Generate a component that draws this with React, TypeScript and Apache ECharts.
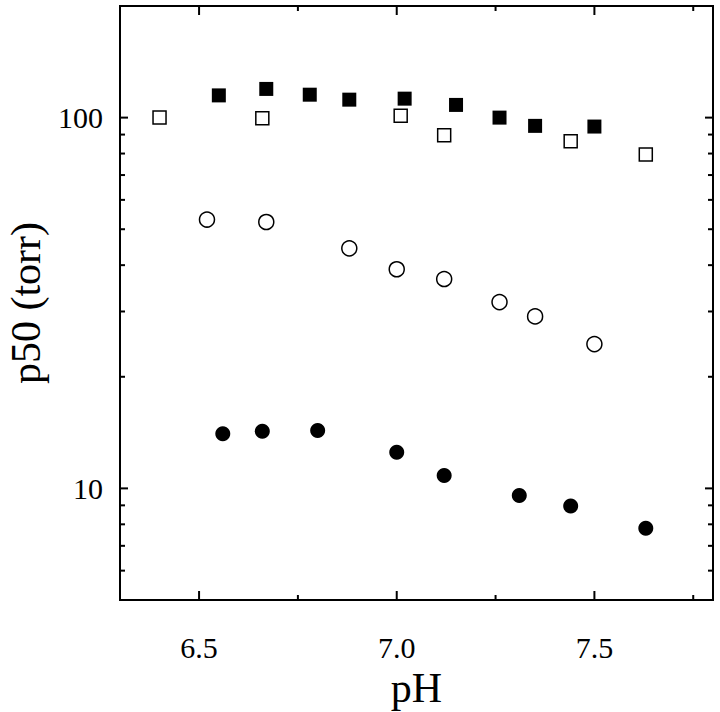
import React, { useEffect, useRef, useState } from "react";
import * as echarts from "echarts";

// pH values and p50 (torr) for each series
const filledSquarePH = [6.55, 6.67, 6.78, 6.88, 7.02, 7.15, 7.26, 7.35, 7.5];
const filledSquareP50 = [114.8, 119.5, 115.3, 111.8, 112.5, 108.2, 100, 95, 94.6];

const openSquarePH = [6.4, 6.66, 7.01, 7.12, 7.44, 7.63];
const openSquareP50 = [100, 99.6, 101.2, 89.6, 86.3, 79.5];

const openCirclePH = [6.52, 6.67, 6.88, 7.0, 7.12, 7.26, 7.35, 7.5];
const openCircleP50 = [53.1, 52.3, 44.4, 39.0, 36.7, 31.8, 29.1, 24.5];

const filledCirclePH = [6.56, 6.66, 6.8, 7.0, 7.12, 7.31, 7.44, 7.63];
const filledCircleP50 = [14.05, 14.26, 14.32, 12.52, 10.84, 9.57, 8.96, 7.81];

// axis ticks
const xMajorTicks = [6.5, 7.0, 7.5];
const xMinorTicks = [6.75, 7.25, 7.75];
const yMajorTicks = [10, 100];
const yMinorTicks = [6, 7, 8, 9, 20, 30, 40, 50, 60, 70, 80, 90];

const X_MIN = 6.3;
const X_MAX = 7.8;
const Y_MIN = 5;
const Y_MAX = 200;

const FONT = "Liberation Serif";

function zip(xs: number[], ys: number[]) {
  return xs.map((x, i) => [x, ys[i]]);
}

function tickSeries(values: number[], dir: "x" | "y", len: number) {
  return {
    type: "custom",
    coordinateSystem: "cartesian2d",
    clip: false,
    data: values.map((v) => (dir === "x" ? [v, 10] : [7, v])),
    renderItem: (params: any, api: any) => {
      const cs = params.coordSys;
      if (dir === "x") {
        const x = api.coord([api.value(0), 10])[0];
        const yb = cs.y + cs.height;
        const yt = cs.y;
        return {
          type: "group",
          children: [
            { type: "line", shape: { x1: x, y1: yb, x2: x, y2: yb - len }, style: { stroke: "#000", lineWidth: 2 } },
            { type: "line", shape: { x1: x, y1: yt, x2: x, y2: yt + len }, style: { stroke: "#000", lineWidth: 2 } },
          ],
        };
      }
      const y = api.coord([7, api.value(1)])[1];
      const xl = cs.x;
      const xr = cs.x + cs.width;
      return {
        type: "group",
        children: [
          { type: "line", shape: { x1: xl, y1: y, x2: xl + len, y2: y }, style: { stroke: "#000", lineWidth: 2 } },
          { type: "line", shape: { x1: xr, y1: y, x2: xr - len, y2: y }, style: { stroke: "#000", lineWidth: 2 } },
        ],
      };
    },
  };
}

const frameSeries = {
  type: "custom",
  coordinateSystem: "cartesian2d",
  clip: false,
  data: [[7, 10]],
  renderItem: (params: any) => {
    const cs = params.coordSys;
    return {
      type: "rect",
      shape: { x: cs.x, y: cs.y, width: cs.width, height: cs.height },
      style: { fill: "none", stroke: "#000", lineWidth: 2 },
    };
  },
};

export default function App() {
  const ref = useRef<HTMLDivElement>(null);
  const [ready, setReady] = useState(false);

  useEffect(() => {
    if (!ref.current) return;
    const chart = echarts.init(ref.current, null, { renderer: "svg" });
    chart.setOption({
      animation: false,
      backgroundColor: "#fff",
      grid: { left: 120, top: 6, right: 7, bottom: 112, outerBoundsMode: "none" },
      xAxis: {
        type: "value",
        min: X_MIN,
        max: X_MAX,
        name: "pH",
        nameLocation: "middle",
        nameGap: 56,
        nameTextStyle: { fontFamily: FONT, fontSize: 42, color: "#000" },
        axisLine: { show: true, lineStyle: { color: "#000", width: 2 } },
        axisTick: { show: false },
        splitLine: { show: false },
        axisLabel: {
          customValues: xMajorTicks,
          formatter: (v: number) => v.toFixed(1),
          fontFamily: FONT,
          fontSize: 30,
          color: "#000",
          margin: 32,
        },
      },
      yAxis: {
        type: "log",
        min: Y_MIN,
        max: Y_MAX,
        name: "p50 (torr)",
        nameLocation: "middle",
        nameGap: 70,
        nameTextStyle: { fontFamily: FONT, fontSize: 42, color: "#000" },
        axisLine: { show: true, lineStyle: { color: "#000", width: 2 } },
        axisTick: { show: false },
        splitLine: { show: false },
        axisLabel: {
          customValues: yMajorTicks,
          fontFamily: FONT,
          fontSize: 30,
          color: "#000",
          margin: 17,
        },
      },
      series: [
        frameSeries,
        tickSeries(xMajorTicks, "x", 9),
        tickSeries(xMinorTicks, "x", 5),
        tickSeries(yMajorTicks, "y", 8),
        tickSeries(yMinorTicks, "y", 5),
        {
          type: "scatter",
          symbol: "rect",
          symbolSize: 14,
          itemStyle: { color: "#000", opacity: 1 },
          data: zip(filledSquarePH, filledSquareP50),
        },
        {
          type: "scatter",
          symbol: "rect",
          symbolSize: 13,
          itemStyle: { color: "#fff", borderColor: "#000", borderWidth: 1.5, opacity: 1 },
          data: zip(openSquarePH, openSquareP50),
        },
        {
          type: "scatter",
          symbol: "circle",
          symbolSize: 15,
          itemStyle: { color: "#fff", borderColor: "#000", borderWidth: 1.5, opacity: 1 },
          data: zip(openCirclePH, openCircleP50),
        },
        {
          type: "scatter",
          symbol: "circle",
          symbolSize: 15,
          itemStyle: { color: "#000", opacity: 1 },
          data: zip(filledCirclePH, filledCircleP50),
        },
      ],
    });
    setReady(true);
    return () => chart.dispose();
  }, []);

  return (
    <div>
      <div
        ref={ref}
        style={{ position: "absolute", left: 0, top: 0, width: 720, height: 712 }}
      />
      <div data-ready={ready ? "1" : "0"} style={{ position: "absolute", left: 0, top: 0, width: 0, height: 0 }} />
    </div>
  );
}
